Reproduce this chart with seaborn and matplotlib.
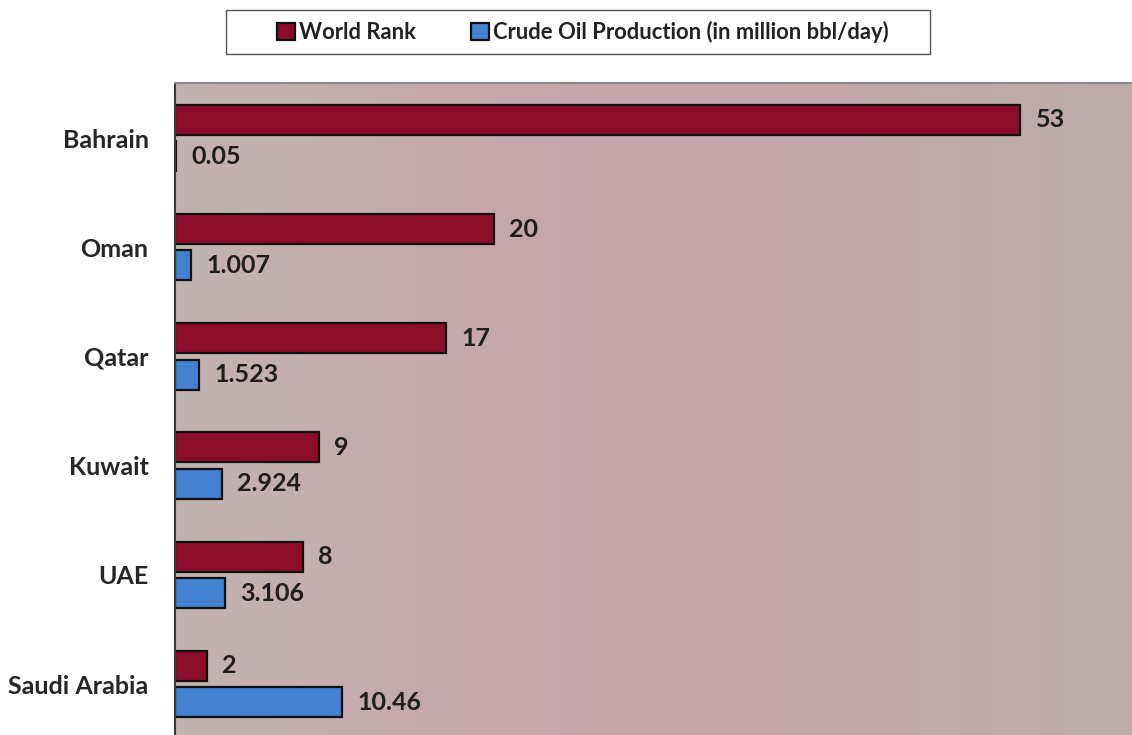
import numpy as np
import pandas as pd
import matplotlib
matplotlib.use("Agg")
import matplotlib.pyplot as plt
from matplotlib.colors import LinearSegmentedColormap
from matplotlib.patches import Rectangle
import seaborn as sns

# Data
countries = ["Bahrain", "Oman", "Qatar", "Kuwait", "UAE", "Saudi Arabia"]
world_rank = [53, 20, 17, 9, 8, 2]
crude_production = [0.05, 1.007, 1.523, 2.924, 3.106, 10.46]
series_names = ["World Rank", "Crude Oil Production (in million bbl/day)"]

df = pd.DataFrame({
    "Country": countries * 2,
    "Value": world_rank + crude_production,
    "Series": [series_names[0]] * len(countries) + [series_names[1]] * len(countries),
})

sns.set_theme(style="white")
plt.rcParams["font.family"] = ["Lato", "DejaVu Sans"]
plt.rcParams["font.weight"] = "bold"

W, H = 1132, 735
fig = plt.figure(figsize=(W / 100, H / 100), dpi=100)
ax = fig.add_axes([175 / W, 0, 1 - 175 / W, (H - 83) / H])

# Soft horizontal gradient fill behind the bars
bg = LinearSegmentedColormap.from_list(
    "bg",
    [(0.0, "#c3b4b1"), (0.25, "#c5a9ad"), (0.5, "#c6a4aa"),
     (0.78, "#c2a8aa"), (1.0, "#bdaba9")],
)
grad = np.linspace(0, 1, 256)[None, :]
ax.imshow(grad, cmap=bg, aspect="auto", extent=(0, 1, 0, 1),
          transform=ax.transAxes, zorder=0)

palette = {series_names[0]: "#8c0c2c", series_names[1]: "#4281d0"}
sns.barplot(data=df, y="Country", x="Value", hue="Series", order=countries,
            hue_order=series_names, palette=palette, orient="h",
            width=0.667, gap=0.175, edgecolor="#111111", linewidth=1.6,
            saturation=1, ax=ax, zorder=2)

ax.set_xlim(0, 60)
ax.set_ylim(5.467, -0.504)

for cont, vals in zip(ax.containers, [world_rank, crude_production]):
    ax.bar_label(cont, labels=[f"{v:g}" for v in vals], padding=11,
                 fontsize=18, fontweight="bold", color="#1e1e1e")

ax.set_xlabel("")
ax.set_ylabel("")
ax.set_xticks([])
ax.tick_params(axis="y", length=0, pad=19, labelsize=18, labelcolor="#262626")
for lab in ax.get_yticklabels():
    lab.set_fontweight("bold")

for side in ["right", "bottom"]:
    ax.spines[side].set_visible(False)
ax.spines["left"].set_color("#3a3a3a")
ax.spines["left"].set_linewidth(1.5)
ax.spines["top"].set_color("#8a8a8a")
ax.spines["top"].set_linewidth(1.5)

handles, labels = ax.get_legend_handles_labels()
ax.get_legend().remove()
leg = fig.legend(handles, labels, loc="center", bbox_to_anchor=(583 / W, 1 - 32 / H),
                 ncol=2, frameon=False, fontsize=15.8, handlelength=0.8,
                 handleheight=0.8, handletextpad=0.2, columnspacing=2.5)
for t in leg.get_texts():
    t.set_fontweight("bold")
    t.set_color("#222222")

# Legend frame
fig.patches.append(Rectangle((226 / W, 1 - 54 / H), (930 - 226) / W, 44 / H,
                             transform=fig.transFigure, fill=False,
                             edgecolor="#555555", linewidth=1.0))

fig.savefig("out.png", dpi=100, facecolor="white")
